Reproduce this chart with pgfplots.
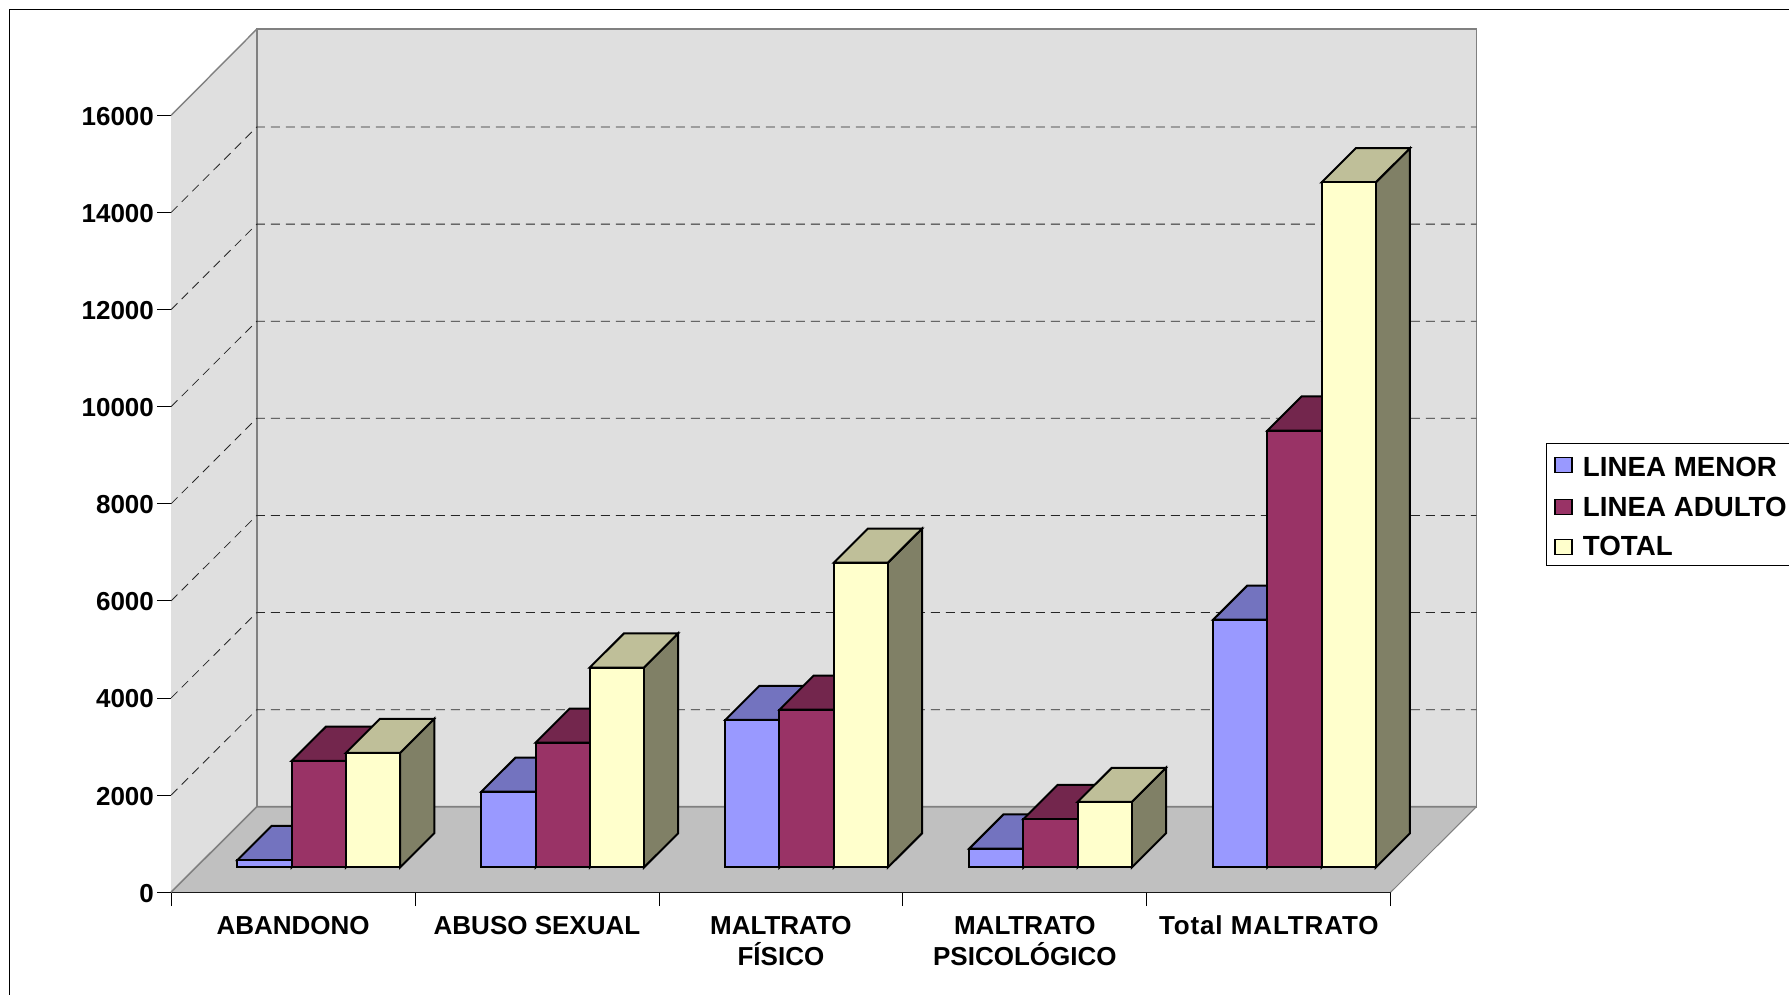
\documentclass[border=0pt]{standalone}
\usepackage{pgfplots}
\pgfplotsset{compat=1.18}
\usepackage{fontspec}
\setmainfont{Liberation Sans}
\definecolor{wall}{HTML}{DFDFDF}
\definecolor{floorc}{HTML}{C0C0C0}
\definecolor{edgec}{HTML}{808080}
\definecolor{bluefront}{HTML}{9999FF}
\definecolor{bluetop}{HTML}{7373BF}
\definecolor{blueside}{HTML}{4D4D80}
\definecolor{redfront}{HTML}{993366}
\definecolor{redtop}{HTML}{73264D}
\definecolor{redside}{HTML}{4D1A33}
\definecolor{yellowfront}{HTML}{FFFFCC}
\definecolor{yellowtop}{HTML}{BFBF99}
\definecolor{yellowside}{HTML}{808066}
\newcommand{\lblfont}{\fontsize{26}{31}\selectfont\bfseries}
\newcommand{\legfont}{\fontsize{27.7}{31}\selectfont\bfseries}
\tikzset{face/.style={draw=black,line width=2pt,line join=miter}}
% #1 category, #2 position within the category, #3 value, #4 colour
\newcommand{\cuboid}[4]{%
  \pgfmathsetmacro\xa{#1+0.1667+#2*0.2222+0.1052}%
  \pgfmathsetmacro\xb{\xa+0.2222}%
  \pgfmathsetmacro\xc{\xa+0.1403}%
  \pgfmathsetmacro\xd{\xb+0.1403}%
  \pgfmathsetmacro\yb{510+#3}%
  \pgfmathsetmacro\yd{1214+#3}%
  \edef\doplot{\noexpand\addplot[forget plot,face,fill=#4side] coordinates {(\xb,510)(\xd,1214)(\xd,\yd)(\xb,\yb)} -- cycle;}\doplot
  \edef\doplot{\noexpand\addplot[forget plot,face,fill=#4top] coordinates {(\xa,\yb)(\xb,\yb)(\xd,\yd)(\xc,\yd)} -- cycle;}\doplot
  \edef\doplot{\noexpand\addplot[forget plot,face,fill=#4front] coordinates {(\xa,510)(\xb,510)(\xb,\yb)(\xa,\yb)} -- cycle;}\doplot
}
\begin{document}
\begin{tikzpicture}[x=1pt,y=1pt]
\useasboundingbox (0,0) rectangle (1789,994);
\clip (0,0) rectangle (1789,994);
\draw[black,line width=1.2pt] (9.5,-2) -- (9.5,984.5) -- (1795,984.5);
\begin{axis}[
  at={(171.1pt,101.8pt)},anchor=south west,
  scale only axis,width=1219.7pt,height=776.8pt,
  xmin=0,xmax=5,ymin=0,ymax=16000,clip=false,
  axis x line=bottom,axis y line=left,
  axis line style={-,black,line width=1.2pt},
  tick align=outside,
  scaled y ticks=false,
  ytick={0,2000,4000,6000,8000,10000,12000,14000,16000},
  xtick={0.5,1.5,2.5,3.5,4.5},
  xticklabels={\vphantom{l}ABANDONO,\vphantom{l}ABUSO SEXUAL,\vphantom{l}MALTRATO\\FÍSICO,\vphantom{l}MALTRATO\\PSICOLÓGICO,{\addfontfeatures{LetterSpace=3.4}Total MALTRATO}},
  minor xtick={0,1,2,3,4,5},
  major tick length=14pt,minor tick length=14pt,
  major x tick style={draw=none},
  minor x tick style={black,line width=0.8pt},
  major y tick style={black,line width=0.8pt},
  /pgf/number format/assume math mode=true,
  /pgf/number format/1000 sep={},
  y tick label style={font=\lblfont,inner sep=3pt,yshift=-1pt},
  x tick label style={font=\lblfont,align=center,anchor=north,yshift=-6pt},
  legend style={at={(1.1272,0.5785)},anchor=north west,draw=black,line width=1pt,fill=white,
    font=\legfont,row sep=13.5pt,inner xsep=8pt,inner ysep=6.5pt},
  legend cell align=left,
  legend image code/.code={\draw[#1,line width=1.2pt] (2pt,-7.5pt) rectangle (19pt,7.5pt); \path (27.5pt,13pt);},
]
% walls and floor
\addplot[forget plot,fill=wall,draw=none] coordinates {(0,0)(0,16000)(0.351,17775)(0.351,1760)} -- cycle;
\addplot[forget plot,fill=wall,draw=edgec,line width=1.6pt] coordinates {(0.351,1760)(0.351,17775)(5.351,17775)(5.351,1760)} -- cycle;
\addplot[forget plot,edgec,line width=1.4pt] coordinates {(0,16000)(0.351,17775)};
\addplot[forget plot,fill=floorc,draw=none] coordinates {(0,0)(5,0)(5.351,1760)(0.351,1760)} -- cycle;
\addplot[forget plot,edgec,line width=1.6pt] coordinates {(0,0)(0.351,1760)(5.351,1760)};
\addplot[forget plot,edgec,line width=1pt] coordinates {(5,0)(5.351,1760)};
% gridlines
\pgfplotsinvokeforeach{2000,4000,6000,8000,10000,12000,14000}{%
  \pgfmathsetmacro\gy{#1+1760}%
  \edef\doplot{\noexpand\addplot[forget plot,black!85,line width=0.8pt,dash pattern=on 9pt off 6pt] coordinates {(0,#1)(0.351,\gy)(5.351,\gy)};}\doplot
}
% bars: LINEA MENOR, LINEA ADULTO, TOTAL
\cuboid{0}{0}{152}{blue}\cuboid{0}{1}{2194}{red}\cuboid{0}{2}{2358}{yellow}
\cuboid{1}{0}{1560}{blue}\cuboid{1}{1}{2569}{red}\cuboid{1}{2}{4117}{yellow}
\cuboid{2}{0}{3038}{blue}\cuboid{2}{1}{3249}{red}\cuboid{2}{2}{6276}{yellow}
\cuboid{3}{0}{387}{blue}\cuboid{3}{1}{997}{red}\cuboid{3}{2}{1349}{yellow}
\cuboid{4}{0}{5103}{blue}\cuboid{4}{1}{8997}{red}\cuboid{4}{2}{14110}{yellow}
\addlegendimage{fill=bluefront,draw=black}\addlegendentry{\rule{0pt}{25pt}LINEA MENOR}
\addlegendimage{fill=redfront,draw=black}\addlegendentry{LINEA ADULTO}
\addlegendimage{fill=yellowfront,draw=black}\addlegendentry{TOTAL}
\end{axis}
\end{tikzpicture}
\end{document}
